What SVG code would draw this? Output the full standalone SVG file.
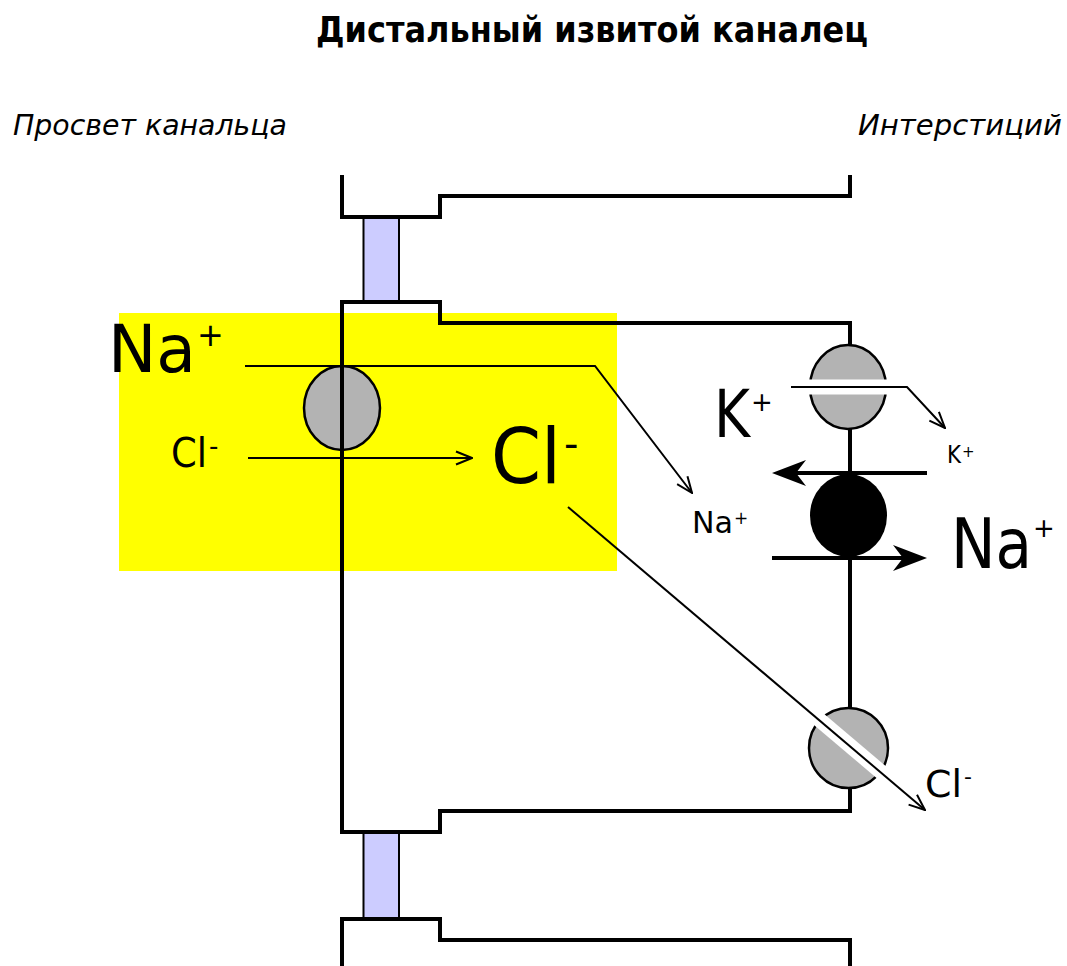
<svg xmlns="http://www.w3.org/2000/svg" width="1067" height="966" viewBox="0 0 1067 966">
<style>
.wall{fill:none;stroke:#000;stroke-width:4;stroke-linejoin:miter}
.tj{fill:#ccccff;stroke:#000;stroke-width:2}
.ch{fill:#b3b3b3;stroke:#000;stroke-width:2.5}
.thin{fill:none;stroke:#000;stroke-width:2}
.thick{fill:none;stroke:#000;stroke-width:4}
.gap{stroke:#fff;stroke-width:15;fill:none}
.t{font-family:"DejaVu Sans","Liberation Sans",sans-serif;fill:#000}
.it{font-family:"DejaVu Sans","Liberation Sans",sans-serif;font-style:italic;fill:#000}
</style>
<defs>
<marker id="v" markerUnits="userSpaceOnUse" markerWidth="18" markerHeight="16" viewBox="0 0 18 16" refX="17" refY="8" orient="auto">
<path d="M1,1.5 L17,8 L1,14.5" fill="none" stroke="#000" stroke-width="2"/>
</marker>
</defs>
<rect width="1067" height="966" fill="#fff"/>
<text class="t" x="592" y="42" font-size="35" font-weight="bold" text-anchor="middle" textLength="552" lengthAdjust="spacingAndGlyphs">Дистальный извитой каналец</text>
<text class="it" x="13" y="135" font-size="29" textLength="274" lengthAdjust="spacingAndGlyphs">Просвет канальца</text>
<text class="it" x="858" y="135" font-size="29" textLength="204" lengthAdjust="spacingAndGlyphs">Интерстиций</text>
<rect id="highlight" x="119" y="313" width="498" height="258" fill="#ffff00"/>
<g id="cell-top">
<path class="wall" d="M342,175 V217 H440 V196 H850 V175"/>
</g>
<g id="junction-top"><rect class="tj" x="363.5" y="218" width="35.5" height="83"/></g>
<g id="cotransporter">
<ellipse class="ch" cx="342" cy="408" rx="38" ry="42"/>
</g>
<g id="cell">
<path class="wall" d="M850,345 V323 H440 V302 H342 V832 H440 V811 H850 V788"/>
<path class="wall" d="M850,429 V474 M850,557 V708"/>
</g>
<g id="junction-bottom"><rect class="tj" x="363.5" y="833" width="35.5" height="85"/></g>
<g id="cell-bottom">
<path class="wall" d="M342,966 V919 H440 V940 H850 V966"/>
</g>
<g id="k-channel">
<ellipse class="ch" cx="848" cy="387" rx="38" ry="42"/>
<line class="gap" x1="806" y1="387" x2="891" y2="387"/>
</g>
<g id="na-k-pump">
<ellipse cx="848.5" cy="515.5" rx="38.5" ry="41.5" fill="#000"/>
</g>
<g id="cl-channel">
<ellipse class="ch" cx="848.5" cy="748" rx="39.5" ry="40"/>
<line class="gap" x1="812" y1="713.5" x2="887" y2="777"/>
</g>
<g id="connectors">
<polyline class="thin" points="245,366 595,366 692,493" marker-end="url(#v)"/>
<line class="thin" x1="248" y1="458" x2="472" y2="458" marker-end="url(#v)"/>
<polyline class="thin" points="791,387 907,387 945,428" marker-end="url(#v)"/>
<line class="thin" x1="568" y1="507" x2="925" y2="810" marker-end="url(#v)"/>
<line class="thick" x1="927" y1="473" x2="790" y2="473"/>
<path d="M772,473 L806,460 L796,473 L806,486 Z" fill="#000"/>
<line class="thick" x1="772" y1="558" x2="909" y2="558"/>
<path d="M927,558 L893,545 L903,558 L893,571 Z" fill="#000"/>
</g>
<g id="labels">
<text class="t" x="108" y="372" font-size="66"><tspan textLength="88" lengthAdjust="spacingAndGlyphs">Na</tspan><tspan x="197" y="346" font-size="32">+</tspan></text>
<text class="t" x="171" y="467" font-size="40"><tspan textLength="36" lengthAdjust="spacingAndGlyphs">Cl</tspan><tspan x="209" y="455" font-size="26">-</tspan></text>
<text class="t" x="491" y="483" font-size="76"><tspan textLength="70" lengthAdjust="spacingAndGlyphs">Cl</tspan><tspan x="564" y="458" font-size="40">-</tspan></text>
<text class="t" x="714" y="437" font-size="66"><tspan textLength="36" lengthAdjust="spacingAndGlyphs">K</tspan><tspan x="751" y="411" font-size="26">+</tspan></text>
<text class="t" x="947" y="463" font-size="24"><tspan textLength="14" lengthAdjust="spacingAndGlyphs">K</tspan><tspan x="962" y="457" font-size="15">+</tspan></text>
<text class="t" x="692" y="533" font-size="31"><tspan textLength="41" lengthAdjust="spacingAndGlyphs">Na</tspan><tspan x="734" y="524" font-size="17">+</tspan></text>
<text class="t" x="951" y="568" font-size="70"><tspan textLength="81" lengthAdjust="spacingAndGlyphs">Na</tspan><tspan x="1033" y="537" font-size="26">+</tspan></text>
<text class="t" x="925" y="797" font-size="37"><tspan textLength="37" lengthAdjust="spacingAndGlyphs">Cl</tspan><tspan x="964" y="784" font-size="22">-</tspan></text>
</g>
</svg>
